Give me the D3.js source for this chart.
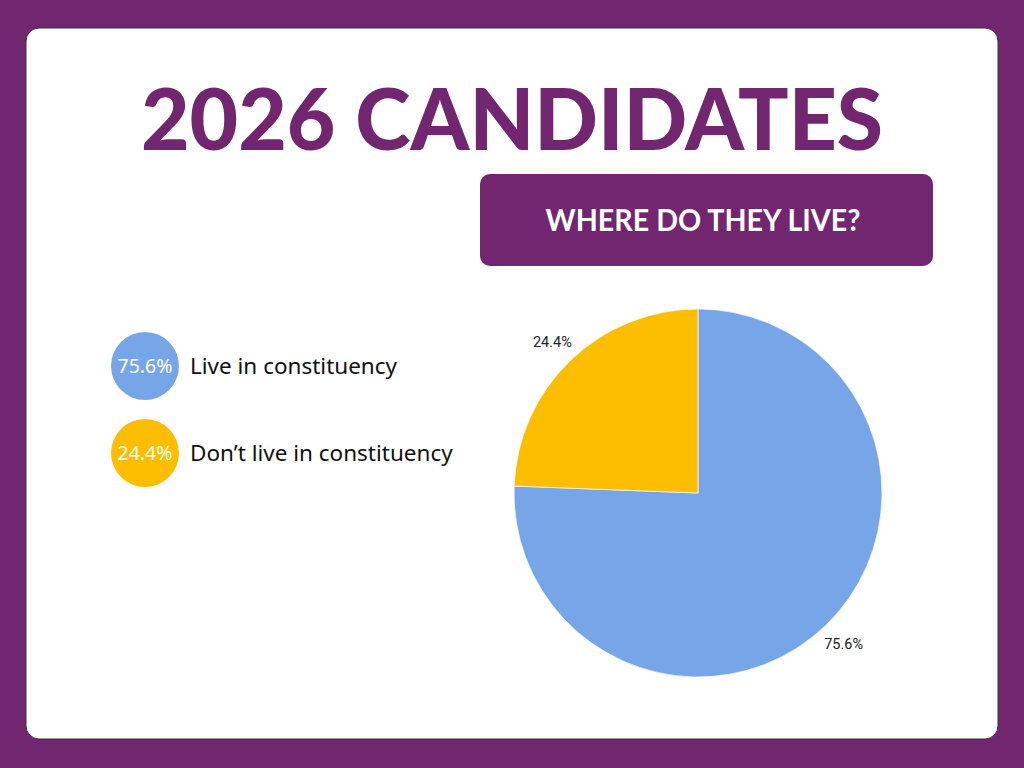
<!DOCTYPE html>
<html>
<head>
<meta charset="utf-8">
<script src="https://cdn.jsdelivr.net/npm/d3@7"></script>
<style>
  html, body { margin: 0; padding: 0; background: #722670; }
</style>
</head>
<body>
<div id="chart"></div>
<script>
// data
var categories = ["Live in constituency", "Don\u2019t live in constituency"];
var values = [75.6, 24.4];
var colors = ["#77a6e8", "#fdbd00"];
var title = "2026 CANDIDATES";
var subtitle = "WHERE DO THEY LIVE?";

var width = 1024, height = 768,
    cx = 698, cy = 493,
    radius = 184,
    labelRadius = 210;

var svg = d3.select("#chart")
  .append("svg")
  .attr("width", width)
  .attr("height", height);

// purple frame + white card
svg.append("rect")
  .attr("width", width).attr("height", height)
  .attr("fill", "#722670");

svg.append("rect")
  .attr("x", 26).attr("y", 28)
  .attr("width", 972).attr("height", 711)
  .attr("rx", 13)
  .attr("fill", "#ffffff")
  .attr("stroke", "#333")
  .attr("stroke-width", 1);

// title
svg.append("text")
  .attr("x", 512).attr("y", 150)
  .attr("text-anchor", "middle")
  .attr("textLength", 742)
  .attr("lengthAdjust", "spacingAndGlyphs")
  .style("font-family", "Lato, 'DejaVu Sans', sans-serif")
  .style("font-weight", 900)
  .style("font-size", "86px")
  .style("fill", "#722670")
  .text(title);

// subtitle box
svg.append("rect")
  .attr("x", 480).attr("y", 174)
  .attr("width", 453).attr("height", 92)
  .attr("rx", 10)
  .attr("fill", "#722670");

svg.append("text")
  .attr("x", 703).attr("y", 231)
  .attr("text-anchor", "middle")
  .attr("textLength", 315)
  .attr("lengthAdjust", "spacingAndGlyphs")
  .style("font-family", "Lato, sans-serif")
  .style("font-weight", 700)
  .style("font-size", "31px")
  .style("fill", "#ffffff")
  .text(subtitle);

// legend
var legendY = d3.scalePoint()
  .domain(categories)
  .range([366, 453]);

var legend = svg.append("g")
  .selectAll("g")
  .data(categories)
  .enter()
  .append("g")
  .attr("transform", function(d) { return "translate(145," + legendY(d) + ")"; });

legend.append("circle")
  .attr("r", 34)
  .attr("fill", function(d, i) { return colors[i]; });

legend.append("text")
  .attr("text-anchor", "middle")
  .attr("dy", "0.35em")
  .style("font-family", "'Noto Sans', sans-serif")
  .style("font-size", "19.5px")
  .style("fill", "#ffffff")
  .text(function(d, i) { return values[i] + "%"; });

legend.append("text")
  .attr("x", 45)
  .attr("dy", "0.35em")
  .style("font-family", "'Noto Sans', sans-serif")
  .style("font-size", "22.5px")
  .style("fill", "#111")
  .text(function(d) { return d; });

// pie
var pie = d3.pie().sort(null);
var arc = d3.arc().innerRadius(0).outerRadius(radius);
var labelArc = d3.arc().innerRadius(labelRadius).outerRadius(labelRadius);

var g = svg.append("g")
  .attr("transform", "translate(" + cx + "," + cy + ")");

g.selectAll("path")
  .data(pie(values))
  .enter()
  .append("path")
  .attr("d", arc)
  .attr("fill", function(d, i) { return colors[i]; })
  .attr("stroke", "#ffffff")
  .attr("stroke-width", 0.7);

g.selectAll("text")
  .data(pie(values))
  .enter()
  .append("text")
  .attr("transform", function(d) { return "translate(" + labelArc.centroid(d) + ")"; })
  .attr("text-anchor", "middle")
  .attr("dy", "0.35em")
  .style("font-family", "Roboto, Arial, sans-serif")
  .style("font-size", "14.5px")
  .style("fill", "#222")
  .text(function(d) { return d.data + "%"; });
</script>
</body>
</html>
